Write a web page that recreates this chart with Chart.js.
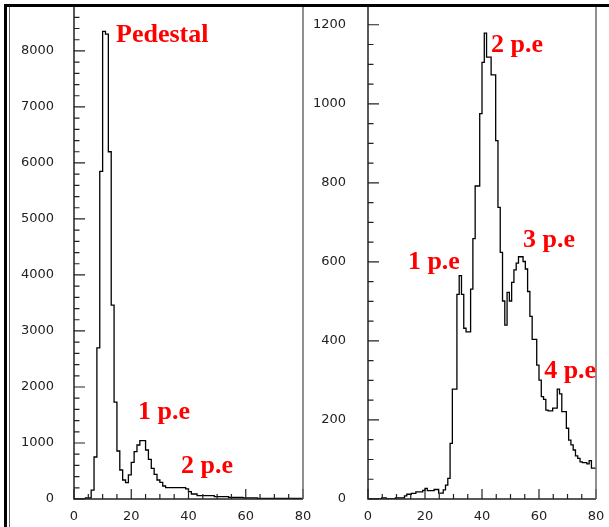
<!DOCTYPE html>
<html>
<head>
<meta charset="utf-8">
<script src="https://cdn.jsdelivr.net/npm/chart.js@4.4.1/dist/chart.umd.min.js"></script>
<style>
  html, body { margin: 0; padding: 0; background: #fff; }
  body { width: 609px; height: 527px; position: relative; overflow: hidden; }
  canvas { position: absolute; top: 0; }
  #leftChart { left: 0; }
  #rightChart { left: 304px; }
  .frame { position: absolute; }
  #frameTop { left: 4px; top: 4px; width: 605px; height: 3px; background: #000; }
  #frameLeft { left: 4px; top: 4px; width: 3px; height: 523px; background: #000; }
  #frameInner { left: 9px; top: 7px; width: 1px; height: 520px; background: #666; }
</style>
</head>
<body>
<canvas id="leftChart" width="320" height="527"></canvas>
<canvas id="rightChart" width="305" height="527"></canvas>
<div class="frame" id="frameTop"></div>
<div class="frame" id="frameLeft"></div>
<div class="frame" id="frameInner"></div>
<script>
// ADC range shared by both spectra
const channelRange = [0, 80];
const channelTicks = [0, 20, 40, 60, 80];

// Left spectrum: 80 bins, pedestal and the first photoelectron peaks
const pedestalCounts = [
  0, 0, 0, 0, 20, 20, 160, 750, 2700, 5850,
  8350, 8300, 6200, 3460, 1730, 857, 518, 339, 291, 429,
  655, 845, 964, 1042, 1042, 875, 708, 548, 441, 339,
  298, 232, 202, 202, 202, 202, 202, 202, 202, 179,
  131, 89, 89, 59, 59, 59, 59, 59, 59, 41,
  41, 41, 41, 41, 30, 30, 30, 30, 30, 20,
  20, 20, 20, 20, 10, 10, 10, 10, 10, 10,
  10, 10, 10, 10, 10, 10, 10, 10, 10, 10
];
const pedestalTicks = [0, 1000, 2000, 3000, 4000, 5000, 6000, 7000, 8000];

// Right spectrum: 100 bins, multi photoelectron structure
const signalCounts = [
  0, 0, 0, 0, 0, 0, 3, 3, 0, 0,
  0, 0, 3, 3, 3, 3, 8, 12, 12, 14,
  14, 18, 18, 18, 22, 27, 21, 21, 21, 24,
  24, 15, 15, 23, 35, 52, 141, 278, 278, 518,
  565, 518, 432, 423, 423, 531, 659, 792, 792, 975,
  1105, 1179, 1118, 1118, 1073, 1073, 907, 738, 624, 501,
  440, 523, 501, 548, 580, 597, 613, 613, 601, 582,
  525, 462, 404, 404, 339, 301, 259, 252, 225, 223,
  223, 230, 230, 278, 266, 221, 221, 179, 149, 137,
  124, 109, 103, 94, 92, 92, 89, 97, 78, 78
];
const signalTicks = [0, 200, 400, 600, 800, 1000, 1200];

// Peak names and where their text sits, in (channel, counts)
const leftPeakNames = ['Pedestal', '1 p.e', '2 p.e'];
const leftPeakAnchors = [[14.7, 8160], [22.4, 1430], [37.4, 460]];
const rightPeakNames = ['1 p.e', '2 p.e', '3 p.e', '4 p.e'];
const rightPeakAnchors = [[14.0, 582], [43.2, 1131], [54.4, 638], [61.8, 306]];

// ROOT style pad: inward tick marks, axis lines, right edge, red peak labels
const padFrame = {
  id: 'padFrame',
  afterDatasetsDraw(chart, args, opts) {
    const {ctx, chartArea: area} = chart;
    const x = chart.scales.x, y = chart.scales.y;
    ctx.save();
    ctx.strokeStyle = '#222';
    ctx.lineWidth = 1.2;
    ctx.beginPath();
    for (let v = x.min; v <= x.max + 1e-6; v += opts.xMinor) {
      const px = x.getPixelForValue(v);
      const len = v % opts.xMajor === 0 ? 10 : 5;
      ctx.moveTo(px, area.bottom);
      ctx.lineTo(px, area.bottom - len);
    }
    for (let v = y.min; v <= y.max + 1e-6; v += opts.yMinor) {
      const py = y.getPixelForValue(v);
      const len = v % opts.yMajor === 0 ? 11 : 5.5;
      ctx.moveTo(area.left, py);
      ctx.lineTo(area.left + len, py);
    }
    ctx.stroke();

    ctx.lineWidth = 1.5;
    ctx.beginPath();
    ctx.moveTo(area.left, area.top);
    ctx.lineTo(area.left, area.bottom);
    ctx.lineTo(area.right, area.bottom);
    ctx.stroke();

    ctx.strokeStyle = '#6b6b6b';
    ctx.beginPath();
    ctx.moveTo(area.right, area.top);
    ctx.lineTo(area.right, area.bottom);
    ctx.stroke();

    ctx.fillStyle = '#ff0000';
    ctx.font = 'bold 26px "Liberation Serif", "Times New Roman", serif';
    ctx.textAlign = 'left';
    ctx.textBaseline = 'alphabetic';
    opts.names.forEach((name, i) => {
      const [cx, cy] = opts.anchors[i];
      ctx.fillText(name, x.getPixelForValue(cx), y.getPixelForValue(cy));
    });
    ctx.restore();
  }
};

function drawSpectrum(canvasId, counts, cfg) {
  // one point per bin low edge, plus the closing edge; each count is held across its bin
  const binWidth = (channelRange[1] - channelRange[0]) / counts.length;
  const points = counts.map((c, i) => ({x: channelRange[0] + i * binWidth, y: c}));
  points.push({x: channelRange[1], y: counts[counts.length - 1]});

  const tickFont = {family: 'DejaVu Sans', size: 13};

  return new Chart(document.getElementById(canvasId), {
    type: 'line',
    data: {
      datasets: [{
        data: points,
        borderColor: '#000',
        borderWidth: 1.3,
        stepped: 'before',
        pointRadius: 0,
        fill: false
      }]
    },
    options: {
      responsive: false,
      animation: false,
      layout: {padding: cfg.padding},
      plugins: {
        legend: {display: false},
        tooltip: {enabled: false},
        padFrame: {
          xMinor: 5, xMajor: 20,
          yMinor: cfg.yMinor, yMajor: cfg.yStep,
          names: cfg.names, anchors: cfg.anchors
        }
      },
      scales: {
        x: {
          type: 'linear',
          min: channelRange[0],
          max: channelRange[1],
          grid: {display: false},
          border: {display: false},
          ticks: {
            maxRotation: 0,
            autoSkip: false,
            padding: 2,
            color: '#222',
            font: tickFont,
            callback: v => String(v)
          },
          afterBuildTicks(scale) {
            scale.ticks = channelTicks.map(v => ({value: v}));
          },
          afterFit(scale) {
            scale.height = 28;
            scale.paddingLeft = 0;
            scale.paddingRight = 0;
          }
        },
        y: {
          type: 'linear',
          min: 0,
          max: cfg.yMax,
          grid: {display: false},
          border: {display: false},
          ticks: {
            autoSkip: false,
            padding: cfg.labelPad,
            color: '#222',
            font: tickFont,
            callback: v => String(v)
          },
          afterBuildTicks(scale) {
            scale.ticks = cfg.yTicks.map(v => ({value: v}));
          },
          afterFit(scale) {
            scale.width = cfg.axisWidth;
            scale.paddingTop = 0;
            scale.paddingBottom = 0;
          }
        }
      }
    },
    plugins: [padFrame]
  });
}

drawSpectrum('leftChart', pedestalCounts, {
  yMax: 8820, yStep: 1000, yMinor: 200, yTicks: pedestalTicks,
  axisWidth: 64, labelPad: 12,
  padding: {left: 10, top: 5, right: 17, bottom: 0},
  names: leftPeakNames, anchors: leftPeakAnchors
});

drawSpectrum('rightChart', signalCounts, {
  yMax: 1250, yStep: 200, yMinor: 50, yTicks: signalTicks,
  axisWidth: 64, labelPad: 14,
  padding: {left: 0, top: 5, right: 13, bottom: 0},
  names: rightPeakNames, anchors: rightPeakAnchors
});
</script>
</body>
</html>
